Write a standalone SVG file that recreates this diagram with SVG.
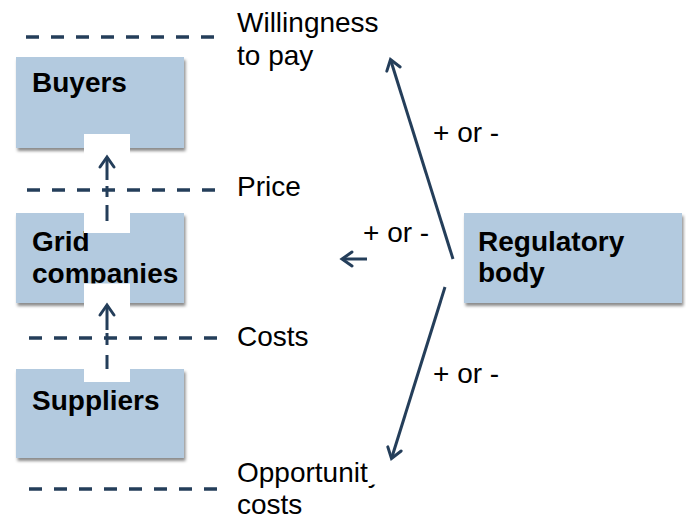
<svg xmlns="http://www.w3.org/2000/svg" width="686" height="521" viewBox="0 0 686 521">
  <defs>
    <filter id="sh" x="-10%" y="-10%" width="125%" height="130%">
      <feDropShadow dx="1.5" dy="3" stdDeviation="1.6" flood-color="#000" flood-opacity="0.45"/>
    </filter>
    <marker id="ah" markerUnits="userSpaceOnUse" markerWidth="24" markerHeight="24" refX="0" refY="0" orient="auto" overflow="visible">
      <path d="M-10,-7 L0,0 L-10,7" fill="none" stroke="#243e5a" stroke-width="3" stroke-linejoin="miter" stroke-linecap="round"/>
    </marker>
    <style>
      .box { fill:#b3cadf; filter:url(#sh); }
      .lbl { font-family:"Liberation Sans", Arial, sans-serif; font-size:28px; fill:#000; }
      .b { font-weight:bold; }
      .lvl { stroke:#243e5a; stroke-width:3.5; stroke-dasharray:13 12; fill:none; }
      .conn { stroke:#243e5a; stroke-width:3; fill:none; }
      .notch { fill:#fff; }
    </style>
  </defs>
  <rect width="686" height="521" fill="#fff"/>

  <g id="levels">
    <path class="lvl" d="M26,37 H215"/>
    <path class="lvl" d="M27,190 H215"/>
    <path class="lvl" d="M29,338 H217"/>
    <path class="lvl" d="M29,489 H217"/>
    <text class="lbl" x="237" y="32">Willingness</text>
    <text class="lbl" x="237" y="65">to pay</text>
    <text class="lbl" x="237" y="196">Price</text>
    <text class="lbl" x="237" y="346">Costs</text>
    <text class="lbl" x="237" y="482">Opportunity</text>
    <text class="lbl" x="237" y="514">costs</text>
  </g>

  <g id="buyers">
    <rect class="box" x="16" y="57" width="168" height="91"/>
    <text class="lbl b" x="32" y="92">Buyers</text>
    <rect class="notch" x="84" y="134" width="46" height="20"/>
  </g>

  <g id="grid-companies">
    <rect class="box" x="16" y="213" width="168" height="90"/>
    <text class="lbl b" x="32" y="251">Grid</text>
    <text class="lbl b" x="32" y="283">companies</text>
    <rect class="notch" x="84" y="211" width="46" height="22"/>
    <rect class="notch" x="84" y="283.5" width="46" height="26"/>
  </g>

  <g id="suppliers">
    <rect class="box" x="16" y="369" width="168" height="89"/>
    <text class="lbl b" x="32" y="410">Suppliers</text>
    <rect class="notch" x="84" y="367" width="46" height="15"/>
  </g>

  <g id="regulatory-body">
    <rect class="box" x="464" y="213" width="218" height="90"/>
    <text class="lbl b" x="478" y="251">Regulatory</text>
    <text class="lbl b" x="478" y="282">body</text>
  </g>

  <rect class="notch" x="368" y="452" width="30" height="32.5"/>

  <g id="connectors">
    <path class="conn" stroke-width="3.5" d="M107,221 V205 M107,197 V186"/>
    <path class="conn" stroke-width="3.5" d="M107,180 V157" marker-end="url(#ah)"/>
    <path class="conn" stroke-width="3.5" d="M107,369 V355 M107,345 V333"/>
    <path class="conn" stroke-width="3.5" d="M107,330 V305" marker-end="url(#ah)"/>
    <path class="conn" d="M453,259 L390.5,59.5" marker-end="url(#ah)"/>
    <path class="conn" d="M367,259 L342,259" marker-end="url(#ah)"/>
    <path class="conn" d="M445,287 L391.5,458.5" marker-end="url(#ah)"/>
    <text class="lbl" x="433" y="142">+ or -</text>
    <text class="lbl" x="363" y="242">+ or -</text>
    <text class="lbl" x="433" y="383">+ or -</text>
  </g>
</svg>
